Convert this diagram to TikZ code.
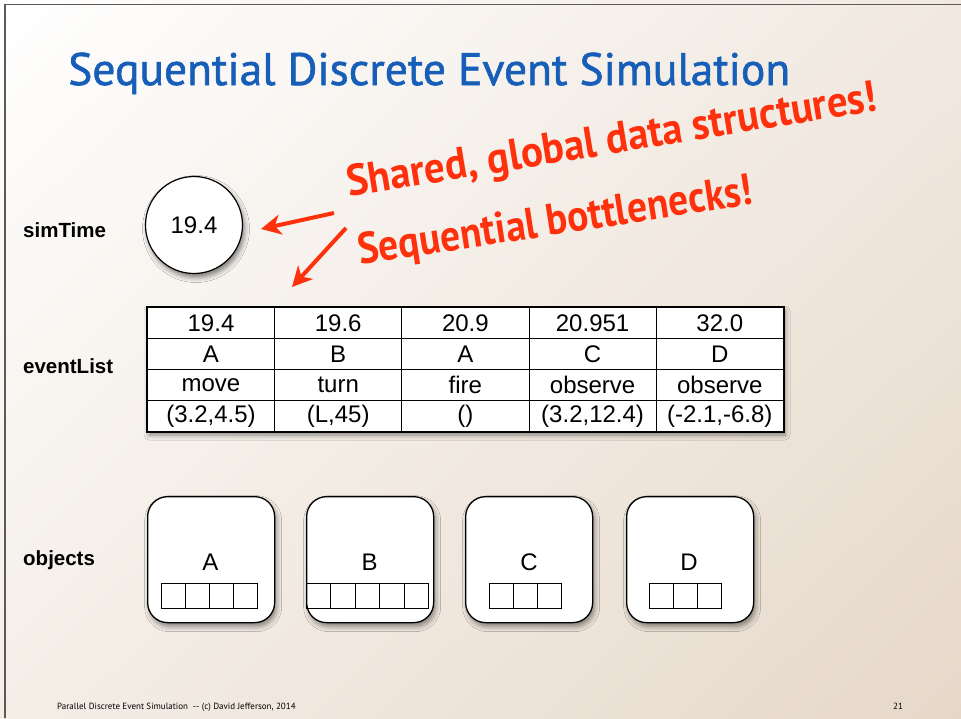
\documentclass[tikz,border=0pt]{standalone}
\usepackage{fontspec}
\setmainfont{Liberation Sans}
\newfontfamily\titlefont{PT Sans}
\newfontfamily\titleboldfont[FakeBold=1.3]{PT Sans}
\newfontfamily\handfont{PT Sans}
\usetikzlibrary{arrows.meta,shadows.blur,shadings}
\definecolor{titleblue}{RGB}{22,94,184}
\definecolor{alertred}{RGB}{255,48,12}
\definecolor{framegray}{RGB}{90,90,90}
\definecolor{bgtr}{RGB}{241,233,225}
\definecolor{bgbl}{RGB}{244,238,231}
\definecolor{bgbr}{RGB}{230,216,201}
\tikzset{
  bglabel/.style={anchor=base west, inner sep=0, font=\bfseries\fontsize{20.5}{22}\selectfont},
  cellbox/.style={draw, line width=0.8pt, minimum width=127.2pt, minimum height=31pt, anchor=north west, inner sep=0, font=\fontsize{24}{26}\selectfont},
  objbox/.style={draw, line width=1.3pt, fill=white, rounded corners=20pt, minimum width=127pt, minimum height=126pt, anchor=north west, inner sep=0, blur shadow={shadow xshift=2pt, shadow yshift=-4pt, shadow blur radius=5pt, shadow opacity=45}},
  slot/.style={draw, line width=0.9pt, minimum width=24pt, minimum height=25pt, anchor=north west, inner sep=0},
  objletter/.style={inner sep=0, font=\fontsize{24}{26}\selectfont},
  redarrow/.style={draw=alertred, line width=4pt, -{Stealth[length=20pt,width=20pt,inset=6pt]}},
  alert/.style={text=alertred, inner sep=0, anchor=base west, rotate=9.3, font=\handfont\bfseries\fontsize{44}{48}\selectfont},
}
\begin{document}
\begin{tikzpicture}[x=1pt,y=-1pt]
\useasboundingbox (0,0) rectangle (961,718);
\shade[upper left=white, upper right=bgtr, lower left=bgbl, lower right=bgbr]
  (0,0) rectangle (961,718);
\draw[framegray, line width=1.3pt] (5,718) -- (5,4.6) -- (961,4.6);

% title
\node[anchor=base west, inner sep=0, text=titleblue, font=\titleboldfont\fontsize{45}{50}\selectfont] (title) at (68,85) {\resizebox{722pt}{!}{Sequential Discrete Event Simulation}};

% red remarks
\node[alert] (rem1) at (349,197) {\scalebox{0.93}[1]{Shared, global data structures!}};
\node[alert, rotate=-0.5] (rem2) at (360,265) {\scalebox{0.9}[1]{Sequential bottlenecks!}};

% row labels
\node[bglabel] (lsim) at (23,237) {simTime};
\node[bglabel] (lev) at (23,373) {eventList};
\node[bglabel] (lobj) at (23,565) {objects};

% simTime circle
\node[circle, draw, line width=1.2pt, fill=white, minimum size=97pt, inner sep=0,
      font=\fontsize{24}{26}\selectfont,
      blur shadow={shadow xshift=2pt, shadow yshift=-4pt, shadow blur radius=5pt, shadow opacity=50}] (simtime) at (194,225) {19.4};

% arrows
\coordinate (a1s) at (334,213);
\coordinate (a1e) at (261,229);
\coordinate (a2s) at (346,228);
\coordinate (a2e) at (292,287);
\draw[redarrow] (a1s) -- (a1e);
\draw[redarrow] (a2s) -- (a2e);

% event list table
\path[fill=white, blur shadow={shadow xshift=2pt, shadow yshift=-4pt, shadow blur radius=5pt, shadow opacity=45}] (147,307) rectangle (783,431);
\foreach \i/\t/\o/\e in {0/19.4/A/move, 1/19.6/B/turn, 2/20.9/A/fire, 3/20.951/C/observe, 4/32.0/D/observe}{
  \node[cellbox] (t\i) at (147+127.2*\i,307) {\t};
  \node[cellbox] (o\i) at (147+127.2*\i,338) {\o};
  \node[cellbox] (e\i) at (147+127.2*\i,369) {\e};
}
\foreach \i/\a in {0/{(3.2,4.5)}, 1/{(L,45)}, 2/{()}, 3/{(3.2,12.4)}, 4/{(-2.1,-6.8)}}{
  \node[cellbox] (p\i) at (147+127.2*\i,400) {\a};
}
\draw[line width=1.5pt] (t0.north west) rectangle (p4.south east);

% objects
\node[objbox] (objA) at (147,496) {};
\node[objbox] (objB) at (306,496) {};
\node[objbox] (objC) at (465,496) {};
\node[objbox] (objD) at (626,496) {};
\node[objletter] (la) at (210.5,562) {A};
\node[objletter] (lb) at (369.5,562) {B};
\node[objletter] (lc) at (529,562) {C};
\node[objletter] (ld) at (689,562) {D};
\foreach \k in {0,...,3}{ \node[slot] (sa\k) at (161+24*\k,583) {}; }
\foreach \k in {0,...,4}{ \node[slot, minimum width=24.4pt] (sb\k) at (306+24.4*\k,583) {}; }
\foreach \k in {0,...,2}{ \node[slot] (sc\k) at (489+24*\k,583) {}; }
\foreach \k in {0,...,2}{ \node[slot] (sd\k) at (649+24*\k,583) {}; }

% footer
\node[anchor=base west, inner sep=0, font=\titlefont\fontsize{9}{10}\selectfont] (foot) at (57,709) {Parallel Discrete Event Simulation\ \ -- (c) David Jefferson, 2014};
\node[anchor=base west, inner sep=0, font=\titlefont\fontsize{9}{10}\selectfont] (pg) at (893,709) {21};
\end{tikzpicture}
\end{document}
